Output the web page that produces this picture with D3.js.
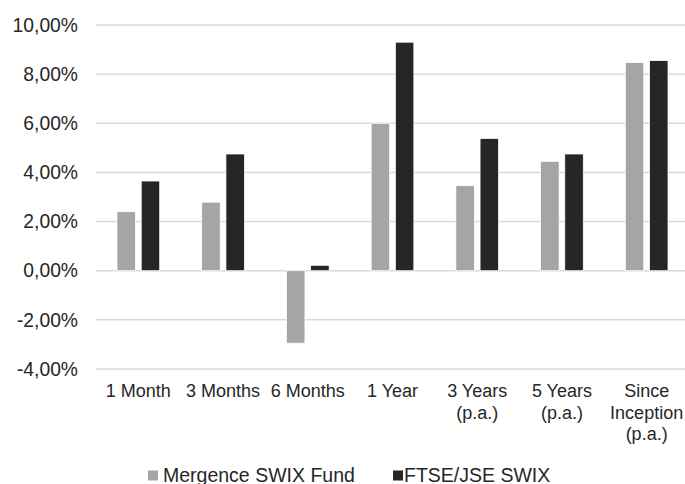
<!DOCTYPE html>
<html>
<head>
<meta charset="utf-8">
<script src="https://cdn.jsdelivr.net/npm/d3@7"></script>
<style>
  html, body { margin: 0; padding: 0; background: #fff; }
  svg { display: block; font-family: "Liberation Sans", Arial, sans-serif; }
</style>
</head>
<body>
<svg id="chart" width="685" height="484"></svg>
<script>
const categories = [
  ["1 Month"],
  ["3 Months"],
  ["6 Months"],
  ["1 Year"],
  ["3 Years", "(p.a.)"],
  ["5 Years", "(p.a.)"],
  ["Since", "Inception", "(p.a.)"]
];
const seriesNames = ["Mergence SWIX Fund", "FTSE/JSE SWIX"];
const fundValues  = [2.40, 2.79, -2.95, 6.00, 3.46, 4.45, 8.47];
const indexValues = [3.65, 4.75, 0.22, 9.30, 5.38, 4.75, 8.55];
const yTicks = [-4, -2, 0, 2, 4, 6, 8, 10];
const colors = ["#a5a5a5", "#262626"];

const svg = d3.select("#chart");
const plot = { left: 96, right: 689, top: 25, bottom: 369 };
const xFont = 18, yFont = 19.3, legendFont = 19.5;

const catKeys = categories.map(c => c.join(" "));
const x0 = d3.scaleBand().domain(catKeys).range([plot.left, plot.right]).padding(0);
const x1 = d3.scaleBand().domain(seriesNames).range([0, x0.bandwidth()])
  .paddingInner(0.236).paddingOuter(0.868);
const y = d3.scaleLinear().domain([-4, 10]).range([plot.bottom, plot.top]);

// gridlines
svg.append("g").selectAll("line").data(yTicks).join("line")
  .attr("x1", plot.left).attr("x2", plot.right)
  .attr("y1", d => y(d)).attr("y2", d => y(d))
  .attr("stroke", "#d9d9d9").attr("stroke-width", 1.5);

// y axis labels
const fmt = d => d.toFixed(2).replace(".", ",") + "%";
const yAxis = d3.axisLeft(y).tickValues(yTicks).tickFormat(fmt).tickSize(0).tickPadding(0);
const yg = svg.append("g").attr("transform", `translate(78,0)`).call(yAxis);
yg.select(".domain").remove();
yg.selectAll("text").attr("font-size", yFont).attr("fill", "#262626")
  .attr("font-family", "'Liberation Sans', Arial, sans-serif");

// bars
const rows = catKeys.map((k, i) => ({ key: k, vals: [fundValues[i], indexValues[i]] }));
const groups = svg.append("g").selectAll("g").data(rows).join("g")
  .attr("transform", d => `translate(${x0(d.key)},0)`);
groups.selectAll("rect").data(d => d.vals.map((v, j) => ({ v, s: seriesNames[j], j })))
  .join("rect")
  .attr("x", d => x1(d.s))
  .attr("width", x1.bandwidth())
  .attr("y", d => y(Math.max(0, d.v)))
  .attr("height", d => Math.abs(y(d.v) - y(0)))
  .attr("fill", d => colors[d.j])
  .attr("stroke", "#ffffff").attr("stroke-width", 0.75);

// x axis labels
const xl = svg.append("g");
categories.forEach((lines, i) => {
  const cx = x0(catKeys[i]) + x0.bandwidth() / 2;
  const t = xl.append("text").attr("x", cx).attr("y", 397)
    .attr("text-anchor", "middle").attr("font-size", xFont).attr("fill", "#262626");
  lines.forEach((ln, k) => {
    t.append("tspan").attr("x", cx).attr("dy", k === 0 ? 0 : 21.5).text(ln);
  });
});

// legend
const legendPos = [{ sq: 148, tx: 163 }, { sq: 393, tx: 404 }];
const lg = svg.append("g");
seriesNames.forEach((name, i) => {
  lg.append("rect").attr("x", legendPos[i].sq).attr("y", 470.5).attr("width", 10).attr("height", 10)
    .attr("fill", colors[i]);
  lg.append("text").attr("x", legendPos[i].tx).attr("y", 481.5)
    .attr("font-size", legendFont).attr("fill", "#262626").text(name);
});
</script>
</body>
</html>
